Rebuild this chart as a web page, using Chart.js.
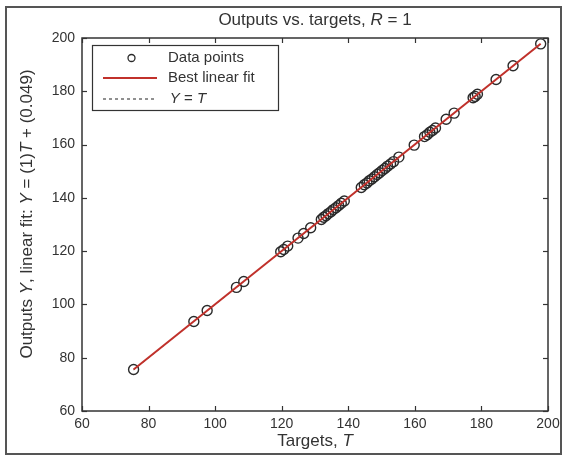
<!DOCTYPE html>
<html>
<head>
<meta charset="utf-8">
<script src="https://cdn.jsdelivr.net/npm/chart.js@4.4.1/dist/chart.umd.min.js"></script>
<style>
  html, body { margin: 0; padding: 0; background: #fff; }
  #wrap { width: 567px; height: 461px; position: relative; }
</style>
</head>
<body>
<div id="wrap"><canvas id="reg"></canvas></div>
<script>
// ====== datos ======
const targets = [75.5, 93.6, 97.6, 106.4, 108.6, 119.7, 120.6, 121.8, 124.9, 126.6,
  128.7, 131.9, 132.6, 133.3, 134.0, 134.8, 135.5, 136.3, 137.1, 137.9,
  138.8, 143.9, 144.8, 145.6, 146.3, 147.1, 147.9, 148.7, 149.4, 150.2,
  151.0, 151.8, 152.7, 153.6, 155.2, 159.8, 162.9, 163.7, 164.5, 165.3,
  166.2, 169.4, 171.8, 177.5, 178.1, 178.8, 184.4, 189.5, 197.8];
const outputs = [75.6, 93.6, 97.7, 106.4, 108.6, 119.8, 120.6, 121.9, 124.9, 126.6,
  128.8, 131.9, 132.7, 133.3, 134.1, 134.8, 135.6, 136.3, 137.1, 138.0,
  138.8, 143.9, 144.9, 145.6, 146.4, 147.1, 147.9, 148.8, 149.4, 150.3,
  151.0, 151.9, 152.7, 153.6, 155.3, 159.8, 163.0, 163.7, 164.6, 165.3,
  166.2, 169.5, 171.8, 177.6, 178.1, 178.9, 184.4, 189.6, 197.8];
const fitT = [75.5, 197.8];
const fitY = [75.55, 197.85];   // Y = (1)T + (0.049)
const idealT = [75.5, 197.8];   // Y = T
const xTicks = [60, 80, 100, 120, 140, 160, 180, 200];
const yTicks = [60, 80, 100, 120, 140, 160, 180, 200];

const FONT = "'Liberation Sans', Arial, sans-serif";
const INK = '#333333';
const RED = '#c1312b';

function toPts(xs, ys) {
  return xs.map((v, i) => ({ x: v, y: ys[i] }));
}

// texto con partes en cursiva (R, T, Y)
function drawRich(ctx, parts, cx, cy, size) {
  ctx.save();
  ctx.textBaseline = 'middle';
  ctx.textAlign = 'left';
  ctx.fillStyle = INK;
  let w = 0;
  parts.forEach(p => {
    ctx.font = (p[1] ? 'italic ' : '') + size + 'px ' + FONT;
    w += ctx.measureText(p[0]).width;
  });
  let x = cx - w / 2;
  parts.forEach(p => {
    ctx.font = (p[1] ? 'italic ' : '') + size + 'px ' + FONT;
    ctx.fillText(p[0], x, cy);
    x += ctx.measureText(p[0]).width;
  });
  ctx.restore();
}

function line(ctx, x1, y1, x2, y2) {
  ctx.beginPath();
  ctx.moveTo(x1, y1);
  ctx.lineTo(x2, y2);
  ctx.stroke();
}

const marcoPlugin = {
  id: 'marco',
  beforeDraw(chart) {
    const ctx = chart.ctx;
    ctx.save();
    ctx.fillStyle = '#ffffff';
    ctx.fillRect(0, 0, chart.width, chart.height);
    ctx.restore();
  },
  afterDraw(chart) {
    const { ctx, chartArea: a, scales: { x, y } } = chart;
    ctx.save();

    // caja de ejes
    ctx.strokeStyle = INK;
    ctx.lineWidth = 1.5;
    ctx.strokeRect(a.left, a.top, a.right - a.left, a.bottom - a.top);

    // marcas hacia adentro
    ctx.lineWidth = 1.2;
    xTicks.forEach(v => {
      const px = Math.round(x.getPixelForValue(v)) + 0.5;
      line(ctx, px, a.bottom, px, a.bottom - 5);
      line(ctx, px, a.top, px, a.top + 5);
    });
    yTicks.forEach(v => {
      const py = Math.round(y.getPixelForValue(v)) + 0.5;
      line(ctx, a.left, py, a.left + 5, py);
      line(ctx, a.right, py, a.right - 5, py);
    });

    // titulos
    drawRich(ctx, [['Outputs vs. targets, ', false], ['R', true], [' = 1', false]],
      (a.left + a.right) / 2, 20, 17);
    drawRich(ctx, [['Targets, ', false], ['T', true]],
      (a.left + a.right) / 2, 441, 17);
    ctx.save();
    ctx.translate(27, 214);
    ctx.rotate(-Math.PI / 2);
    drawRich(ctx, [['Outputs ', false], ['Y', true], [', linear fit: ', false], ['Y', true],
      [' = (1)', false], ['T', true], [' + (0.049)', false]], 0, 0, 17);
    ctx.restore();

    // leyenda
    const lx = 92, ly = 45, lw = 186, lh = 65;
    ctx.fillStyle = '#ffffff';
    ctx.fillRect(lx, ly, lw, lh);
    ctx.strokeStyle = INK;
    ctx.lineWidth = 1.2;
    ctx.strokeRect(lx + 0.5, ly + 0.5, lw, lh);

    const rows = [58, 78, 99];
    ctx.lineWidth = 1.3;
    ctx.strokeStyle = '#2a2a2a';
    ctx.beginPath();
    ctx.arc(131.5, rows[0], 3.5, 0, Math.PI * 2);
    ctx.stroke();

    ctx.strokeStyle = RED;
    ctx.lineWidth = 2;
    line(ctx, 103, rows[1], 157, rows[1]);

    ctx.strokeStyle = '#222';
    ctx.lineWidth = 1;
    ctx.setLineDash([3, 3]);
    line(ctx, 103, rows[2], 157, rows[2]);
    ctx.setLineDash([]);

    ctx.font = '15px ' + FONT;
    ctx.fillStyle = INK;
    ctx.textBaseline = 'middle';
    ctx.fillText('Data points', 168, rows[0]);
    ctx.fillText('Best linear fit', 168, rows[1]);
    drawRich(ctx, [['Y', true], [' = ', false], ['T', true]], 168 + 20, rows[2], 15);

    // marco exterior de la figura
    ctx.strokeStyle = '#555';
    ctx.lineWidth = 2;
    ctx.strokeRect(6, 7, 555, 447);
    ctx.restore();
  }
};

new Chart(document.getElementById('reg'), {
  type: 'scatter',
  data: {
    datasets: [
      {
        label: 'Data points',
        data: toPts(targets, outputs),
        pointStyle: 'circle',
        pointRadius: 5,
        pointBorderWidth: 1.4,
        borderColor: '#2a2a2a',
        backgroundColor: 'rgba(0,0,0,0)',
        clip: false,
        order: 3
      },
      {
        label: 'Y = T',
        data: toPts(idealT, idealT),
        showLine: true,
        borderColor: '#222',
        borderWidth: 1,
        borderDash: [3, 3],
        pointRadius: 0,
        order: 2
      },
      {
        label: 'Best linear fit',
        data: toPts(fitT, fitY),
        showLine: true,
        borderColor: RED,
        borderWidth: 2,
        pointRadius: 0,
        order: 1
      }
    ]
  },
  options: {
    responsive: true,
    maintainAspectRatio: false,
    animation: false,
    events: [],
    layout: { padding: { left: 0, top: 38, right: 19, bottom: 0 } },
    plugins: {
      legend: { display: false },
      tooltip: { enabled: false },
      title: { display: false }
    },
    scales: {
      x: {
        type: 'linear',
        min: 60,
        max: 200,
        afterBuildTicks: s => { s.ticks = xTicks.map(v => ({ value: v })); },
        afterFit: s => { s.height = 50; },
        grid: { display: false, drawTicks: false },
        border: { display: false },
        ticks: { padding: 5, color: INK, font: { family: FONT, size: 14 } }
      },
      y: {
        type: 'linear',
        min: 60,
        max: 200,
        afterBuildTicks: s => { s.ticks = yTicks.map(v => ({ value: v })); },
        afterFit: s => { s.width = 82; },
        grid: { display: false, drawTicks: false },
        border: { display: false },
        ticks: { padding: 7, color: INK, font: { family: FONT, size: 14 } }
      }
    }
  },
  plugins: [marcoPlugin]
});
</script>
</body>
</html>
